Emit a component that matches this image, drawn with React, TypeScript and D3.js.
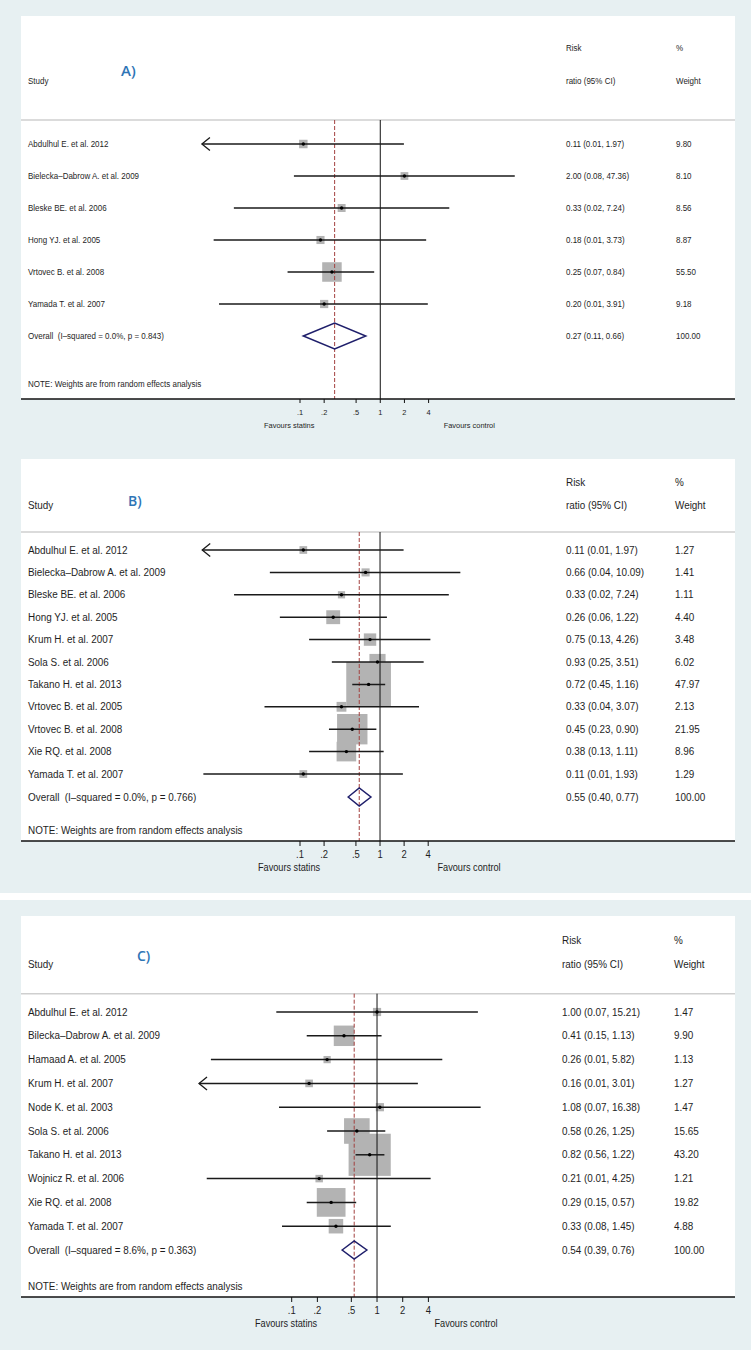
import React from "react";
import * as d3 from "d3";

// ---------- Panel A data ----------
const studiesA = ["Abdulhul E. et al. 2012", "Bielecka–Dabrow A. et al. 2009", "Bleske BE. et al. 2006", "Hong YJ. et al. 2005", "Vrtovec B. et al. 2008", "Yamada T. et al. 2007"];
const rrA = [0.11, 2.0, 0.33, 0.18, 0.25, 0.2];
const loA = [0.0055, 0.084, 0.015, 0.0084, 0.07, 0.0098];
const hiA = [1.97, 47.36, 7.24, 3.73, 0.84, 3.91];
const weightA = [9.8, 8.1, 8.56, 8.87, 55.5, 9.18];
const ciTextA = ["0.11 (0.01, 1.97)", "2.00 (0.08, 47.36)", "0.33 (0.02, 7.24)", "0.18 (0.01, 3.73)", "0.25 (0.07, 0.84)", "0.20 (0.01, 3.91)"];
const overallA = [0.27, 0.11, 0.66];
const overallTextA = "0.27 (0.11, 0.66)";
const overallLabelA = "Overall  (I–squared = 0.0%, p = 0.843)";

// ---------- Panel B data ----------
const studiesB = ["Abdulhul E. et al. 2012", "Bielecka–Dabrow A. et al. 2009", "Bleske BE. et al. 2006", "Hong YJ. et al. 2005", "Krum H. et al. 2007", "Sola S. et al. 2006", "Takano H. et al. 2013", "Vrtovec B. et al. 2005", "Vrtovec B. et al. 2008", "Xie RQ. et al. 2008", "Yamada T. et al. 2007"];
const rrB = [0.11, 0.66, 0.33, 0.26, 0.75, 0.93, 0.72, 0.33, 0.45, 0.38, 0.11];
const loB = [0.0055, 0.042, 0.015, 0.056, 0.13, 0.25, 0.45, 0.036, 0.23, 0.13, 0.0062];
const hiB = [1.97, 10.09, 7.24, 1.22, 4.26, 3.51, 1.16, 3.07, 0.9, 1.11, 1.93];
const weightB = [1.27, 1.41, 1.11, 4.4, 3.48, 6.02, 47.97, 2.13, 21.95, 8.96, 1.29];
const ciTextB = ["0.11 (0.01, 1.97)", "0.66 (0.04, 10.09)", "0.33 (0.02, 7.24)", "0.26 (0.06, 1.22)", "0.75 (0.13, 4.26)", "0.93 (0.25, 3.51)", "0.72 (0.45, 1.16)", "0.33 (0.04, 3.07)", "0.45 (0.23, 0.90)", "0.38 (0.13, 1.11)", "0.11 (0.01, 1.93)"];
const overallB = [0.55, 0.4, 0.77];
const overallTextB = "0.55 (0.40, 0.77)";
const overallLabelB = "Overall  (I–squared = 0.0%, p = 0.766)";

// ---------- Panel C data ----------
const studiesC = ["Abdulhul E. et al. 2012", "Bilecka–Dabrow A. et al. 2009", "Hamaad A. et al. 2005", "Krum H. et al. 2007", "Node K. et al. 2003", "Sola S. et al. 2006", "Takano H. et al. 2013", "Wojnicz R. et al. 2006", "Xie RQ. et al. 2008", "Yamada T. et al. 2007"];
const rrC = [1.0, 0.41, 0.26, 0.16, 1.08, 0.58, 0.82, 0.21, 0.29, 0.33];
const loC = [0.066, 0.15, 0.0113, 0.006, 0.071, 0.26, 0.56, 0.0101, 0.15, 0.077];
const hiC = [15.21, 1.13, 5.82, 3.01, 16.38, 1.25, 1.22, 4.25, 0.57, 1.45];
const weightC = [1.47, 9.9, 1.13, 1.27, 1.47, 15.65, 43.2, 1.21, 19.82, 4.88];
const ciTextC = ["1.00 (0.07, 15.21)", "0.41 (0.15, 1.13)", "0.26 (0.01, 5.82)", "0.16 (0.01, 3.01)", "1.08 (0.07, 16.38)", "0.58 (0.26, 1.25)", "0.82 (0.56, 1.22)", "0.21 (0.01, 4.25)", "0.29 (0.15, 0.57)", "0.33 (0.08, 1.45)"];
const overallC = [0.54, 0.39, 0.76];
const overallTextC = "0.54 (0.39, 0.76)";
const overallLabelC = "Overall  (I–squared = 8.6%, p = 0.363)";

// ---------- Shared ----------
const tickValues = [0.1, 0.2, 0.5, 1, 2, 4];
const tickLabels = [".1", ".2", ".5", "1", "2", "4"];
const axisMinA = 0.006;
const axisMinB = 0.006;
const axisMinC = 0.0082;

const FONT = "'Liberation Sans', Arial, Helvetica, sans-serif";
const BG = "#e7f0f2";
const TEXT = "#1e1e1e";

type Layout = {
  tag: string; tagX: number; tagY: number; tagSize: number;
  boxTop: number; h1: number; h2: number; sep: number;
  row0: number; step: number; overallY: number; noteY: number;
  axisY: number; tickLen: number; tickY: number; favY: number;
  font: number; sx: number; tickFont: number; favFont: number;
  xRange: [number, number]; boxMax: number; diamondH: number;
  riskX: number; weightX: number; axisMin: number;
};

function Txt(p: { x: number; y: number; size: number; sx: number; anchor?: string; children: React.ReactNode; pre?: boolean }) {
  return (
    <text transform={`translate(${p.x},${p.y}) scale(${p.sx},1)`} fontSize={p.size}
      textAnchor={p.anchor || "start"} dominantBaseline="central"
      style={p.pre ? { whiteSpace: "pre" } : undefined}>{p.children}</text>
  );
}

function Panel(props: {
  L: Layout; studies: string[]; rr: number[]; lo: number[]; hi: number[]; weight: number[];
  ciText: string[]; overall: number[]; overallText: string; overallLabel: string;
}) {
  const { L, studies, rr, lo, hi, weight, ciText, overall, overallText, overallLabel } = props;
  const x = d3.scaleLog().domain([0.1, 4]).range(L.xRange);
  const size = d3.scaleSqrt().domain([0, 100]).range([0, L.boxMax]);
  const y = (i: number) => L.row0 + i * L.step;
  const xMin = x(L.axisMin);
  const x1 = x(1);
  const left = 21, right = 735;
  const f = L.font, sx = L.sx;
  const diamond = `M${x(overall[1])},${L.overallY} L${x(overall[0])},${L.overallY - L.diamondH} L${x(overall[2])},${L.overallY} L${x(overall[0])},${L.overallY + L.diamondH} Z`;
  return (
    <g fontFamily={FONT} fill={TEXT}>
      <rect x={left} y={L.boxTop} width={right - left} height={L.axisY - L.boxTop} fill="#fff" />
      <text x={L.tagX} y={L.tagY} fontSize={L.tagSize} fill="#2e75b6" fontWeight={600}
        fontFamily="'Open Sans', 'Noto Sans', sans-serif" dominantBaseline="central">{L.tag}</text>
      <Txt x={28} y={L.h2} size={f} sx={sx}>Study</Txt>
      <Txt x={L.riskX} y={L.h1} size={f} sx={sx}>Risk</Txt>
      <Txt x={L.riskX} y={L.h2} size={f} sx={sx}>ratio (95% CI)</Txt>
      <Txt x={L.weightX} y={L.h1} size={f} sx={sx}>%</Txt>
      <Txt x={L.weightX} y={L.h2} size={f} sx={sx}>Weight</Txt>
      <line x1={left} x2={right} y1={L.sep} y2={L.sep} stroke="#cfcfcf" strokeWidth={1.5} />

      {/* boxes */}
      {rr.map((v, i) => {
        const s = size(weight[i]) + 0.5;
        return <rect key={"b" + i} x={x(v) - s / 2} y={y(i) - s / 2} width={s} height={s} fill="#b3b3b3" />;
      })}

      {/* reference lines */}
      <line x1={x1} x2={x1} y1={L.sep} y2={L.axisY} stroke="#111" strokeWidth={1} />
      <line x1={x(overall[0])} x2={x(overall[0])} y1={L.sep} y2={L.axisY} stroke="#a3413f" strokeWidth={1} strokeDasharray="4,2" />

      {/* CI lines */}
      {rr.map((v, i) => {
        const clipped = lo[i] < L.axisMin;
        const xa = clipped ? xMin : x(lo[i]);
        return (
          <g key={"l" + i}>
            <line x1={xa} x2={x(hi[i])} y1={y(i)} y2={y(i)} stroke="#1a1a1a" strokeWidth={1.5} />
            {clipped && (
              <path d={`M${xMin + 8},${y(i) - 6.5} L${xMin},${y(i)} L${xMin + 8},${y(i) + 6.5}`} fill="none" stroke="#1a1a1a" strokeWidth={1.3} />
            )}
            <circle cx={x(v)} cy={y(i)} r={1.7} fill="#000" />
          </g>
        );
      })}

      <path d={diamond} fill="none" stroke="#1f1f6b" strokeWidth={1.5} />

      {/* text columns */}
      {studies.map((s, i) => (
        <Txt key={"s" + i} x={28} y={y(i)} size={f} sx={sx}>{s}</Txt>
      ))}
      {ciText.map((s, i) => (
        <Txt key={"c" + i} x={L.riskX} y={y(i)} size={f} sx={sx}>{s}</Txt>
      ))}
      {weight.map((w, i) => (
        <Txt key={"w" + i} x={L.weightX} y={y(i)} size={f} sx={sx}>{w.toFixed(2)}</Txt>
      ))}
      <Txt x={28} y={L.overallY} size={f} sx={sx} pre>{overallLabel}</Txt>
      <Txt x={L.riskX} y={L.overallY} size={f} sx={sx}>{overallText}</Txt>
      <Txt x={L.weightX} y={L.overallY} size={f} sx={sx}>100.00</Txt>
      <Txt x={28} y={L.noteY} size={f} sx={sx}>NOTE: Weights are from random effects analysis</Txt>

      {/* axis */}
      <line x1={left} x2={right} y1={L.axisY} y2={L.axisY} stroke="#111" strokeWidth={1.5} />
      {tickValues.map((t, i) => (
        <g key={"t" + i}>
          <line x1={x(t)} x2={x(t)} y1={L.axisY} y2={L.axisY + L.tickLen} stroke="#111" strokeWidth={1} />
          <Txt x={x(t)} y={L.tickY} size={L.tickFont} sx={sx} anchor="middle">{tickLabels[i]}</Txt>
        </g>
      ))}
      <Txt x={x1 - 91} y={L.favY} size={L.favFont} sx={sx} anchor="middle">Favours statins</Txt>
      <Txt x={x1 + 89} y={L.favY} size={L.favFont} sx={sx} anchor="middle">Favours control</Txt>
    </g>
  );
}

const layoutA: Layout = {
  tag: "A)", tagX: 121, tagY: 70, tagSize: 15,
  boxTop: 16, h1: 48, h2: 81, sep: 120, row0: 144, step: 32, overallY: 336, noteY: 384,
  axisY: 399, tickLen: 4, tickY: 412, favY: 425, font: 8.6, sx: 0.93, tickFont: 8, favFont: 8,
  xRange: [300, 428.6], boxMax: 25.5, diamondH: 13, riskX: 566, weightX: 676, axisMin: axisMinA,
};
const layoutB: Layout = {
  tag: "B)", tagX: 128, tagY: 500, tagSize: 14,
  boxTop: 459, h1: 482.7, h2: 505, sep: 532, row0: 550, step: 22.4, overallY: 797, noteY: 830,
  axisY: 841, tickLen: 5, tickY: 854, favY: 867, font: 11, sx: 0.9, tickFont: 10.5, favFont: 10.2,
  xRange: [300, 428.2], boxMax: 63.8, diamondH: 9, riskX: 566, weightX: 675, axisMin: axisMinB,
};
const layoutC: Layout = {
  tag: "C)", tagX: 137, tagY: 955, tagSize: 14,
  boxTop: 916, h1: 940, h2: 964, sep: 993.7, row0: 1012, step: 23.8, overallY: 1250, noteY: 1286,
  axisY: 1297, tickLen: 5, tickY: 1310.7, favY: 1323.7, font: 11, sx: 0.9, tickFont: 10.5, favFont: 10.2,
  xRange: [291.7, 428.4], boxMax: 63.4, diamondH: 9, riskX: 562, weightX: 674, axisMin: axisMinC,
};

export default function App() {
  return (
    <svg width={751} height={1351} style={{ position: "absolute", left: 0, top: 0, display: "block" }}>
      <rect x={0} y={0} width={751} height={1351} fill="#fff" />
      <rect x={0} y={0} width={751} height={893} fill={BG} />
      <rect x={0} y={900} width={751} height={450} fill={BG} />
      <Panel L={layoutA} studies={studiesA} rr={rrA} lo={loA} hi={hiA} weight={weightA} ciText={ciTextA}
        overall={overallA} overallText={overallTextA} overallLabel={overallLabelA} />
      <Panel L={layoutB} studies={studiesB} rr={rrB} lo={loB} hi={hiB} weight={weightB} ciText={ciTextB}
        overall={overallB} overallText={overallTextB} overallLabel={overallLabelB} />
      <Panel L={layoutC} studies={studiesC} rr={rrC} lo={loC} hi={hiC} weight={weightC} ciText={ciTextC}
        overall={overallC} overallText={overallTextC} overallLabel={overallLabelC} />
    </svg>
  );
}
